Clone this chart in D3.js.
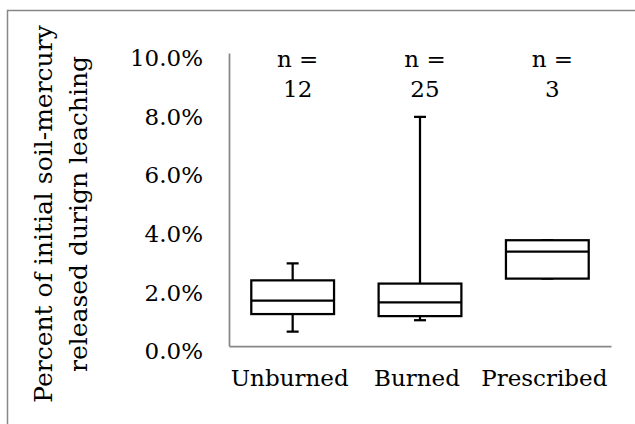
<!DOCTYPE html>
<html>
<head>
<meta charset="utf-8">
<script src="https://cdn.jsdelivr.net/npm/d3@7/dist/d3.min.js"></script>
<style>
  html, body { margin: 0; padding: 0; background: #fff; }
  svg { display: block; }
  text { font-family: "DejaVu Serif", "Liberation Serif", serif; fill: #000; }
</style>
</head>
<body>
<svg id="chart" width="635" height="424"></svg>
<script>
// Mercury released during leaching, by fire history (box-and-whisker summary)
const categories   = ["Unburned", "Burned", "Prescribed"];
const sampleCounts = [12, 25, 3];
const whiskerLow   = [0.0049, 0.0088, 0.0230];
const quartile1    = [0.0109, 0.0102, 0.0230];
const medians      = [0.0155, 0.0149, 0.0322];
const quartile3    = [0.0224, 0.0213, 0.0361];
const whiskerHigh  = [0.0282, 0.0782, 0.0361];
const yTicks       = [0, 0.02, 0.04, 0.06, 0.08, 0.10];
const yTitleLines  = ["Percent of initial soil-mercury", "released durign leaching"];

const svg = d3.select("#chart");
const plot = { left: 229, right: 611, top: 53, bottom: 346 };
const axisGray = "#878787";
const labelSize = 23;

// outer frame of the chart area
svg.append("rect")
  .attr("x", 7.5).attr("y", 10.5)
  .attr("width", 640).attr("height", 430)
  .attr("fill", "none").attr("stroke", axisGray).attr("stroke-width", 1.5);

const x = d3.scaleBand().domain(categories).range([plot.left, plot.right]).paddingInner(0).paddingOuter(0);
const y = d3.scaleLinear().domain([0, 0.10]).range([plot.bottom, plot.top]);

// y axis: line plus percentage labels
const yAxis = d3.axisLeft(y).tickValues(yTicks).tickFormat(d3.format(".1%")).tickSize(0).tickPadding(26);
const gy = svg.append("g").attr("transform", `translate(${plot.left},0)`).call(yAxis);
gy.select(".domain").attr("stroke", axisGray).attr("stroke-width", 1.75);
gy.selectAll(".tick text").attr("font-size", labelSize).attr("dy", "0.55em")
  .style("font-family", '"DejaVu Serif", serif').attr("fill", "#000");

// x axis: line plus category labels
const xAxis = d3.axisBottom(x).tickSize(0).tickPadding(24);
const gx = svg.append("g").attr("transform", `translate(0,${plot.bottom})`).call(xAxis);
gx.select(".domain").attr("stroke", axisGray).attr("stroke-width", 1.75);
gx.selectAll(".tick text").attr("font-size", labelSize).attr("dx", -3)
  .style("font-family", '"DejaVu Serif", serif').attr("fill", "#000");

// boxes
const boxW = x.bandwidth() * 0.65;
const capW = 12;
const rows = categories.map((c, i) => ({
  c, n: sampleCounts[i], lo: whiskerLow[i], q1: quartile1[i], med: medians[i], q3: quartile3[i], hi: whiskerHigh[i]
}));

const g = svg.append("g").attr("stroke", "#000").attr("stroke-width", 2.25).attr("fill", "none");
rows.forEach(r => {
  const cx = x(r.c) + x.bandwidth() / 2;
  // whiskers
  g.append("line").attr("x1", cx).attr("x2", cx).attr("y1", y(r.q3)).attr("y2", y(r.hi));
  g.append("line").attr("x1", cx).attr("x2", cx).attr("y1", y(r.q1)).attr("y2", y(r.lo));
  g.append("line").attr("x1", cx - capW / 2).attr("x2", cx + capW / 2).attr("y1", y(r.hi)).attr("y2", y(r.hi));
  g.append("line").attr("x1", cx - capW / 2).attr("x2", cx + capW / 2).attr("y1", y(r.lo)).attr("y2", y(r.lo));
  // box
  g.append("rect").attr("x", cx - boxW / 2).attr("width", boxW)
    .attr("y", y(r.q3)).attr("height", y(r.q1) - y(r.q3)).attr("fill", "#fff");
  // median
  g.append("line").attr("x1", cx - boxW / 2).attr("x2", cx + boxW / 2).attr("y1", y(r.med)).attr("y2", y(r.med));
});

// sample-size labels
rows.forEach(r => {
  const cx = x(r.c) + x.bandwidth() / 2 + 5;
  const t = svg.append("text").attr("text-anchor", "middle").attr("font-size", labelSize);
  t.append("tspan").attr("x", cx).attr("y", 67).text("n =");
  t.append("tspan").attr("x", cx).attr("y", 97).text(r.n);
});

// y axis title, two rotated lines
const title = svg.append("text").attr("text-anchor", "middle").attr("font-size", 25)
  .attr("transform", "translate(0,214) rotate(-90)");
title.append("tspan").attr("x", 0).attr("y", 52).text(yTitleLines[0]);
title.append("tspan").attr("x", 0).attr("y", 87).text(yTitleLines[1]);
</script>
</body>
</html>
